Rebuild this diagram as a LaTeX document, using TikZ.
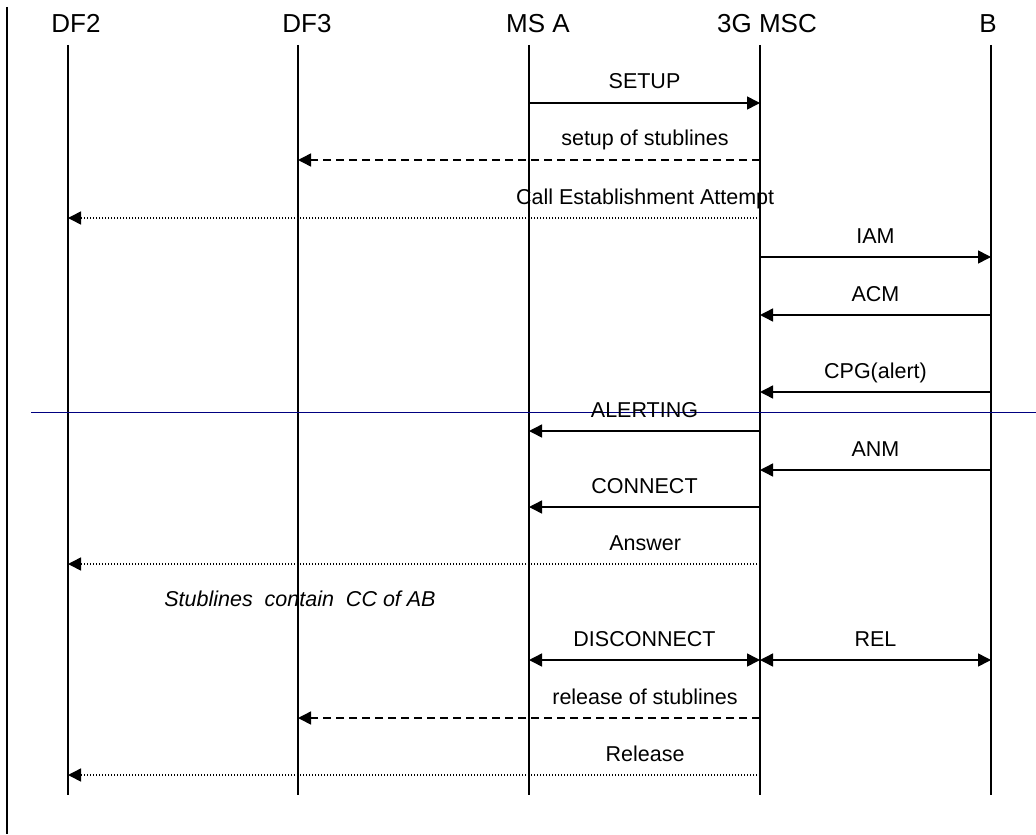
\documentclass[tikz,border=0pt]{standalone}
\usepackage{fontspec}
\setmainfont{Liberation Sans}
\usetikzlibrary{arrows.meta}

\definecolor{rulenavy}{RGB}{0,0,128}

\begin{document}
\begin{tikzpicture}[x=0.5pt,y=-0.5pt,
  entity/.style={font=\fontsize{13}{15}\selectfont,inner sep=0pt,anchor=base},
  life/.style={line width=0.75pt},
  msg/.style={line width=0.75pt,-{Triangle[length=6.5pt,width=6.5pt]}},
  both/.style={line width=0.75pt,{Triangle[length=6.5pt,width=6.5pt]}-{Triangle[length=6.5pt,width=6.5pt]}},
  stub/.style={msg,dash pattern=on 4pt off 2.5pt},
  iri/.style={msg,dash pattern=on 0.5pt off 1pt},
  lbl/.style={font=\fontsize{10.75}{13}\selectfont,inner sep=0pt,anchor=base,yshift=7pt}]
  \useasboundingbox (0,0) rectangle (1036,834);
  \draw[line width=1pt] (7,7) coordinate (frametop) -- (7,834) coordinate (framebot);
  \foreach \n/\x/\t/\tx in {df2/68/DF2/76, df3/298/DF3/307, msa/529/MS A/538, msc/760/3G MSC/767, b/991/B/988}{
    \node[entity] (\n) at (\tx,33) {\t};
    \draw[life] (\x,45) coordinate (\n-top) -- (\x,795) coordinate (\n-bot);
    \foreach \r/\y in {1/103,2/160,3/218,4/257,5/315,6/392,7/431,8/470,9/507,10/564,11/660,12/718,13/775}
      \coordinate (\n-\r) at (\x,\y);
  }
  \draw[rulenavy,line width=0.5pt] (31,412) coordinate (sepl) -- (1036,412) coordinate (sepr);

  \draw[msg] (msa-1) -- node[lbl]{SETUP} (msc-1);
  \draw[stub] (msc-2) -- node[lbl,pos=0.249]{setup of stublines} (df3-2);
  \draw[iri] (msc-3) -- node[lbl,pos=0.166]{Call Establishment Attempt} (df2-3);
  \draw[msg] (msc-4) -- node[lbl]{IAM} (b-4);
  \draw[msg] (b-5) -- node[lbl]{ACM} (msc-5);
  \draw[msg] (b-6) -- node[lbl]{CPG(alert)} (msc-6);
  \draw[msg] (msc-7) -- node[lbl]{ALERTING} (msa-7);
  \draw[msg] (b-8) -- node[lbl]{ANM} (msc-8);
  \draw[msg] (msc-9) -- node[lbl]{CONNECT} (msa-9);
  \draw[iri] (msc-10) -- node[lbl,pos=0.166]{Answer} (df2-10);
  \node[font=\fontsize{10.75}{13}\selectfont\itshape,inner sep=0pt,anchor=base] (note) at (300,606) {Stublines\ \ contain\ \ CC of AB};
  \draw[both] (msa-11) -- node[lbl]{DISCONNECT} (msc-11);
  \draw[both] (msc-11) -- node[lbl]{REL} (b-11);
  \draw[stub] (msc-12) -- node[lbl,pos=0.249]{release of stublines} (df3-12);
  \draw[iri] (msc-13) -- node[lbl,pos=0.166]{Release} (df2-13);
\end{tikzpicture}
\end{document}
